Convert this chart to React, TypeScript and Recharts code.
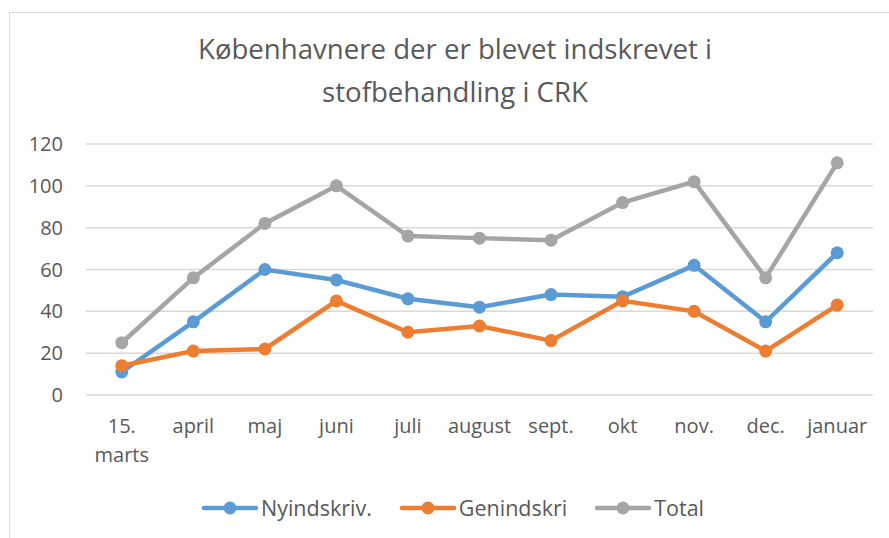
import React from 'react';
import { LineChart, Line, XAxis, YAxis, CartesianGrid } from 'recharts';

const categories = ['15. marts', 'april', 'maj', 'juni', 'juli', 'august', 'sept.', 'okt', 'nov.', 'dec.', 'januar'];
const nyindskriv = [11, 35, 60, 55, 46, 42, 48, 47, 62, 35, 68];
const genindskri = [14, 21, 22, 45, 30, 33, 26, 45, 40, 21, 43];
const total = [25, 56, 82, 100, 76, 75, 74, 92, 102, 56, 111];
const yTicks = [0, 20, 40, 60, 80, 100, 120];
const seriesKeys = ['ny', 'gen', 'total'];
const seriesNames = ['Nyindskriv.', 'Genindskri', 'Total'];
const seriesColors = ['#5B9BD5', '#ED7D31', '#A5A5A5'];
const titleLines = ['Københavnere der er blevet indskrevet i', 'stofbehandling i CRK'];

const data = categories.map((c, i) => ({ name: c, ny: nyindskriv[i], gen: genindskri[i], total: total[i] }));

const FONT = '"Open Sans", "Noto Sans", sans-serif';
const TEXT = '#595959';

const XTick = (props: any) => {
  const { x, y, payload } = props;
  const words = String(payload.value).split(' ');
  return (
    <text x={x} y={y + 38} textAnchor="middle" fill={TEXT} fontSize={20} fontFamily={FONT}>
      {words.map((w, i) => (
        <tspan key={i} x={x} dy={i === 0 ? 0 : 29}>{w}</tspan>
      ))}
    </text>
  );
};

const LegendBlock = () => (
  <div style={{ position: 'absolute', left: 8, top: 496, width: 889, display: 'flex', justifyContent: 'center', alignItems: 'center', fontFamily: FONT, fontSize: 21.5, color: TEXT, lineHeight: '24px' }}>
    {seriesNames.map((n, i) => (
      <div key={i} style={{ display: 'flex', alignItems: 'center', marginRight: i < seriesNames.length - 1 ? 27 : 0 }}>
        <svg width={58} height={16} style={{ marginRight: 2 }}>
          <line x1={3} y1={8} x2={55} y2={8} stroke={seriesColors[i]} strokeWidth={4.5} strokeLinecap="round" />
          <circle cx={29} cy={8} r={6.5} fill={seriesColors[i]} />
        </svg>
        <span>{n}</span>
      </div>
    ))}
  </div>
);

export default function App() {
  return (
    <div style={{ position: 'absolute', left: 0, top: 0, width: 889, height: 538, overflow: 'hidden', background: '#fff' }}>
      <div style={{ position: 'absolute', left: 9, top: 12, width: 920, height: 600, border: '1px solid #D9D9D9', boxSizing: 'border-box' }} />
      <div style={{ position: 'absolute', left: 0, top: 27, width: 910, textAlign: 'center', fontFamily: FONT, fontSize: 27.6, color: TEXT, lineHeight: '43px' }}>
        {titleLines.map((t, i) => (<div key={i}>{t}</div>))}
      </div>
      <div style={{ position: 'absolute', left: 0, top: 0 }}>
        <LineChart width={889} height={538} data={data} margin={{ top: 144, right: 16, bottom: 63, left: 0 }}>
          <CartesianGrid vertical={false} stroke="#D9D9D9" strokeWidth={1.5} />
          <XAxis dataKey="name" axisLine={false} tickLine={false} tickSize={0} tickMargin={0} interval={0} padding={{ left: 35.8, right: 35.8 }} tick={<XTick />} height={80} />
          <YAxis domain={[0, 120]} ticks={yTicks} axisLine={false} tickLine={false} tickSize={0} tickMargin={23} width={86} tick={{ fill: TEXT, fontSize: 20, fontFamily: FONT }} interval={0} />
          {seriesKeys.map((k, i) => (
            <Line key={k} type="linear" dataKey={k} name={seriesNames[i]} stroke={seriesColors[i]} strokeWidth={4.5}
              dot={{ r: 6.5, fill: seriesColors[i], stroke: seriesColors[i], strokeWidth: 0 }} activeDot={false} isAnimationActive={false} />
          ))}
        </LineChart>
      </div>
      <LegendBlock />
    </div>
  );
}
